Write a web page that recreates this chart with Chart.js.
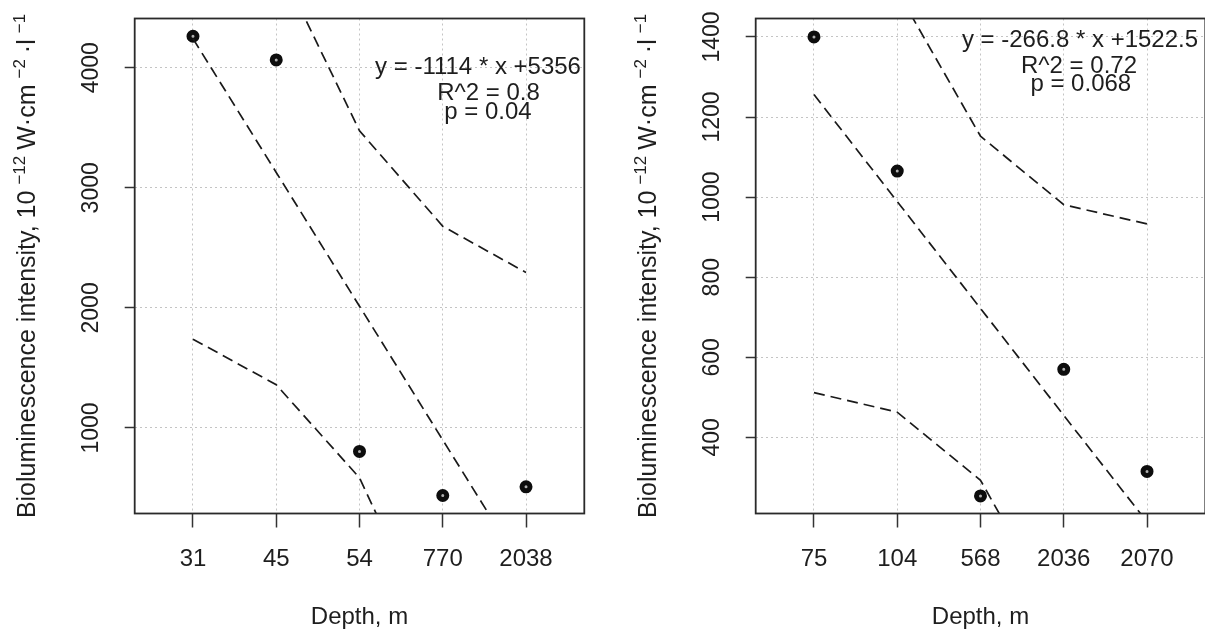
<!DOCTYPE html>
<html><head><meta charset="utf-8">
<script src="https://cdn.jsdelivr.net/npm/chart.js@4.4.0/dist/chart.umd.min.js"></script>
<style>
html,body{margin:0;padding:0;background:#fff;overflow:hidden;width:1205px;height:630px;}
.panel{position:absolute;top:0;width:621px;height:630px;}
</style></head><body>
<div class="panel" style="left:0"><canvas id="c1" width="621" height="630"></canvas></div>
<div class="panel" style="left:621px"><canvas id="c2" width="621" height="630"></canvas></div>
<script>
// ---- data (left panel) ----
const depthLeft = ['31', '45', '54', '770', '2038'];
const intensityLeft = [4262, 4065, 805, 438, 510];
const fitLeft = [4242, 3128, 2014, 900, -214];
const upperLeft = [6750, 4905, 3475, 2680, 2295];
const lowerLeft = [1740, 1360, 585, -900, -2720];
const yTicksLeft = [1000, 2000, 3000, 4000];
const yRangeLeft = [288, 4410];
const statsLeft = ['y = -1114 * x +5356', 'R^2 = 0.8', 'p = 0.04'];

// ---- data (right panel) ----
const depthRight = ['75', '104', '568', '2036', '2070'];
const intensityRight = [1400, 1065, 254, 570, 315];
const fitRight = [1256, 989, 722, 455, 189];
const upperRight = [2000, 1515, 1152, 981, 933];
const lowerRight = [512, 463, 293, -75, -556];
const yTicksRight = [400, 600, 800, 1000, 1200, 1400];
const yRangeRight = [210, 1446];
const statsRight = ['y = -266.8 * x +1522.5', 'R^2 = 0.72', 'p = 0.068'];

const xRange = [0.3, 5.7];
const xTitle = 'Depth, m';
const yTitleParts = [
  {t: 'Bioluminescence intensity, 10', sup: false},
  {t: '\u221212', sup: true},
  {t: 'W\u00B7cm', sup: false},
  {t: '\u22122', sup: true},
  {t: '\u00B7l', sup: false},
  {t: '\u22121', sup: true}
];

const FAM = '"Liberation Sans", Arial, Helvetica, sans-serif';
const INK = '#1e1e1e';

const boxPlugin = {
  id: 'box',
  afterDatasetsDraw(chart) {
    const a = chart.chartArea, ctx = chart.ctx;
    ctx.save();
    ctx.strokeStyle = '#2a2a2a';
    ctx.lineWidth = 1.8;
    ctx.strokeRect(a.left, a.top, a.right - a.left, a.bottom - a.top);
    ctx.restore();
  }
};

const yTitlePlugin = {
  id: 'yTitle',
  afterDraw(chart) {
    const ctx = chart.ctx, a = chart.chartArea;
    const mainFont = '25px ' + FAM, supFont = '17px ' + FAM;
    const gap = 6;
    ctx.save();
    let total = 0; const widths = [];
    yTitleParts.forEach((p, i) => {
      ctx.font = p.sup ? supFont : mainFont;
      const w = ctx.measureText(p.t).width;
      widths.push(w);
      total += w + (i ? gap : 0);
    });
    ctx.translate(35, (a.top + a.bottom) / 2);
    ctx.rotate(-Math.PI / 2);
    ctx.fillStyle = INK;
    ctx.textAlign = 'left';
    ctx.textBaseline = 'alphabetic';
    let x = -total / 2;
    yTitleParts.forEach((p, i) => {
      ctx.font = p.sup ? supFont : mainFont;
      ctx.fillText(p.t, x, p.sup ? -10 : 0);
      x += widths[i] + gap;
    });
    ctx.restore();
  }
};

const statsPlugin = {
  id: 'stats',
  afterDraw(chart, args, opts) {
    const ctx = chart.ctx;
    ctx.save();
    ctx.fillStyle = INK;
    ctx.font = '24px ' + FAM;
    ctx.textAlign = 'center';
    ctx.textBaseline = 'alphabetic';
    opts.lines.forEach((t, i) => ctx.fillText(t, opts.pos[i][0], opts.pos[i][1]));
    ctx.restore();
  }
};

function pts(arr) { return arr.map((v, i) => ({x: i + 1, y: v})); }

function dashed(arr) {
  return {data: pts(arr), borderColor: '#1a1a1a', borderWidth: 1.7, borderDash: [11, 6],
          pointRadius: 0, fill: false, tension: 0};
}

function makePanel(id, depth, intensity, fit, upper, lower, yTicks, yRange, stats, statsPos) {
  new Chart(document.getElementById(id), {
    type: 'line',
    data: {
      datasets: [
        dashed(fit), dashed(upper), dashed(lower),
        {data: pts(intensity), showLine: false, pointRadius: 4, pointBorderWidth: 5,
         pointBackgroundColor: '#b0b0b0', pointBorderColor: '#0d0d0d', borderColor: '#0d0d0d'}
      ]
    },
    options: {
      responsive: false,
      animation: false,
      layout: {padding: {left: 0, right: 36.7, top: 18.5, bottom: 0}},
      plugins: {
        legend: {display: false},
        tooltip: {enabled: false},
        stats: {lines: stats, pos: statsPos}
      },
      scales: {
        x: {
          type: 'linear', min: xRange[0], max: xRange[1],
          afterBuildTicks: s => { s.ticks = depth.map((d, i) => ({value: i + 1})); },
          afterFit: s => { s.height = 116.5; s.paddingLeft = 0; s.paddingRight = 0; },
          ticks: {
            callback: v => depth[Math.round(v) - 1],
            font: {family: FAM, size: 24}, color: INK, padding: 17,
            maxRotation: 0, autoSkip: false
          },
          grid: {color: '#c4c4c4', lineWidth: 1, tickLength: 14, tickColor: '#333',
                 tickWidth: 1.5, tickBorderDash: []},
          border: {display: false, dash: [2, 3]},
          title: {display: true, text: xTitle, font: {family: FAM, size: 24, lineHeight: 1.05}, color: INK,
                  padding: {top: 0, bottom: 0}}
        },
        y: {
          type: 'linear', min: yRange[0], max: yRange[1],
          afterBuildTicks: s => { s.ticks = yTicks.map(v => ({value: v})); },
          afterFit: s => { s.width = 134.7; s.paddingTop = 0; s.paddingBottom = 0; },
          ticks: {
            callback: v => String(v),
            font: {family: FAM, size: 23}, color: INK, padding: 7,
            minRotation: 90, maxRotation: 90, crossAlign: 'center', autoSkip: false
          },
          grid: {color: '#c4c4c4', lineWidth: 1, tickLength: 10, tickColor: '#333',
                 tickWidth: 1.5, tickBorderDash: []},
          border: {display: false, dash: [2, 3]}
        }
      }
    },
    plugins: [boxPlugin, yTitlePlugin, statsPlugin]
  });
}

makePanel('c1', depthLeft, intensityLeft, fitLeft, upperLeft, lowerLeft, yTicksLeft, yRangeLeft,
          statsLeft, [[478, 74], [488.5, 100], [488, 118.5]]);
makePanel('c2', depthRight, intensityRight, fitRight, upperRight, lowerRight, yTicksRight, yRangeRight,
          statsRight, [[459, 46.5], [458, 72.5], [459.8, 91]]);
</script>
</body></html>
